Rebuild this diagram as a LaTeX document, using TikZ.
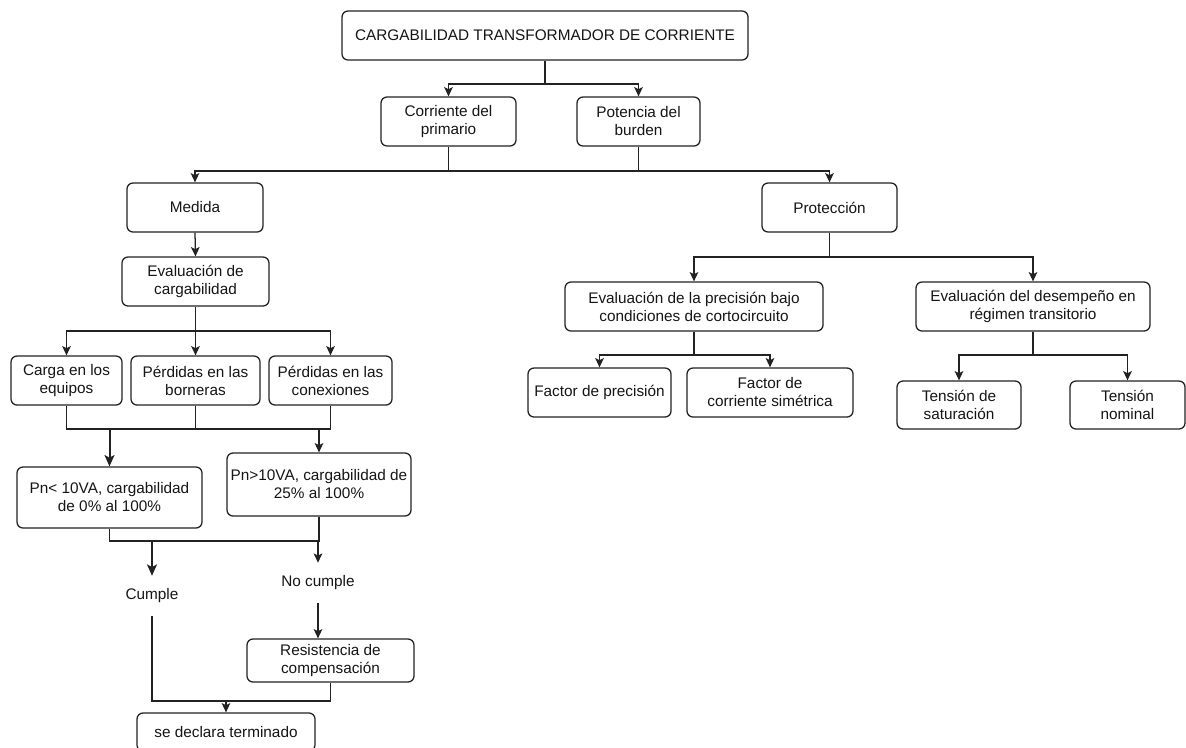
\documentclass[tikz,border=0pt]{standalone}
\usepackage{fontspec}
\setmainfont{Liberation Sans}
\usetikzlibrary{arrows.meta}
\definecolor{linec}{HTML}{222222}
\definecolor{textc}{HTML}{151515}
\newcommand{\diagfont}{\fontsize{11.5}{13.5}\selectfont}
\begin{document}
\begin{tikzpicture}[x=0.75pt,y=-0.75pt,
  wh/.style 2 args={minimum width=#1*0.75pt, minimum height=#2*0.75pt},
  box/.style={draw=linec, line width=0.95pt, rounded corners=4.5pt, align=center, text=textc, font=\diagfont, inner sep=0pt},
  txt/.style={align=center, text=textc, font=\diagfont, inner sep=0pt},
  con/.style={draw=linec, line width=0.95pt},
  arr/.style={-{Stealth[length=7pt,width=6.5pt,inset=1.6pt]}},
  thk/.style={line width=1.5pt, -{Stealth[length=8.5pt,width=7.5pt,inset=2pt]}}
]
\useasboundingbox (0,0) rectangle (1186,747);
\fill[white] (0,0) rectangle (1186,747);
\clip (0,0) rectangle (1186,747);

% levels
\coordinate (L1) at (0,84);
\coordinate (L2) at (0,171);
\coordinate (L3) at (0,331);
\coordinate (L4) at (0,429);
\coordinate (L5) at (0,541);
\coordinate (L6) at (0,701);
\coordinate (L7) at (0,257);
\coordinate (L8) at (0,355);

% nodes
\node[box, wh={406}{49}] (top) at (545,35.5) {CARGABILIDAD TRANSFORMADOR DE CORRIENTE};
\node[box, wh={135}{49}] (corr) at (448.5,121.5) {Corriente del\\primario};
\node[box, wh={123}{49}] (pot) at (638.5,121.5) {Potencia del\\burden};
\node[box, wh={136}{49}] (med) at (195,207.5) {Medida};
\node[box, wh={135}{49}] (prot) at (829.5,207.5) {Protección};
\node[box, wh={147}{49}] (evc) at (195.5,281.5) {Evaluación de\\cargabilidad};
\node[box, wh={111}{49}] (carga) at (66.5,380.5) {Carga en los\\equipos};
\node[box, wh={129}{49}] (born) at (195.5,380.5) {Pérdidas en las\\borneras};
\node[box, wh={123}{49}] (conx) at (330.5,380.5) {Pérdidas en las\\conexiones};
\node[box, wh={185}{61}] (pnl) at (109.5,497.5) {Pn< 10VA, cargabilidad\\de 0\% al 100\%};
\node[box, wh={184}{63}] (pnh) at (319,484.5) {Pn>10VA, cargabilidad de\\25\% al 100\%};
\node[txt, wh={60}{40}] (cum) at (152,596) {Cumple};
\node[txt, wh={80}{40}] (noc) at (318,583) {No cumple};
\node[box, wh={167}{43}] (res) at (330.5,660.5) {Resistencia de\\compensación};
\node[box, wh={178}{38}] (dec) at (226,732) {se declara terminado};
\node[box, wh={258}{49}] (evp) at (694,306.5) {Evaluación de la precisión bajo\\condiciones de cortocircuito};
\node[box, wh={234}{49}] (evd) at (1033,306.5) {Evaluación del desempeño en\\régimen transitorio};
\node[box, wh={143}{49}] (fp) at (599.5,392.5) {Factor de precisión};
\node[box, wh={166}{49}] (fc) at (770,392.5) {Factor de\\corriente simétrica};
\node[box, wh={124}{48}] (ts) at (959,405) {Tensión de\\saturación};
\node[box, wh={115}{48}] (tn) at (1127.5,405) {Tensión\\nominal};

% connectors
\draw[con] (top.south) -- (top.south |- L1);
\draw[con,arr] (top.south |- L1) -| (corr.north);
\draw[con,arr] (top.south |- L1) -| (pot.north);

\draw[con] (corr.south) -- (corr.south |- L2);
\draw[con] (pot.south) -- (pot.south |- L2);
\draw[con,arr] (corr.south |- L2) -| (med.north);
\draw[con,arr] (corr.south |- L2) -| (prot.north);

\draw[con,arr] (med.south) -- (evc.north);
\draw[con] (evc.south) -- (evc.south |- L3);
\draw[con,arr] (evc.south |- L3) -| (carga.north);
\draw[con,arr] (evc.south |- L3) -| (conx.north);
\draw[con,arr] (evc.south |- L3) -- (born.north);

\draw[con] (carga.south) |- (conx.south |- L4) -- (conx.south);
\draw[con] (born.south) -- (born.south |- L4);
\draw[con,thk] (pnl.north |- L4) -- (pnl.north);
\draw[con,arr] (pnh.north |- L4) -- (pnh.north);

\draw[con] (pnl.south) |- (pnh.south |- L5) -- (pnh.south);
\draw[con,thk] (cum.north |- L5) -- (cum.north);
\draw[con,arr] (noc.north |- L5) -- (noc.north);
\draw[con,arr] (noc.south) -- (noc.south |- res.north);
\draw[con] (cum.south) |- (res.south |- L6) -- (res.south);
\draw[con,arr] (dec.north |- L6) -- (dec.north);

\draw[con] (prot.south) -- (prot.south |- L7);
\draw[con,arr] (prot.south |- L7) -| (evp.north);
\draw[con,arr] (prot.south |- L7) -| (evd.north);

\draw[con] (evp.south) -- (evp.south |- L8);
\draw[con,arr] (evp.south |- L8) -| (fp.north);
\draw[con,arr] (evp.south |- L8) -| (fc.north);

\draw[con] (evd.south) -- (evd.south |- L8);
\draw[con,arr] (evd.south |- L8) -| (ts.north);
\draw[con,arr] (evd.south |- L8) -| (tn.north);
\end{tikzpicture}
\end{document}
